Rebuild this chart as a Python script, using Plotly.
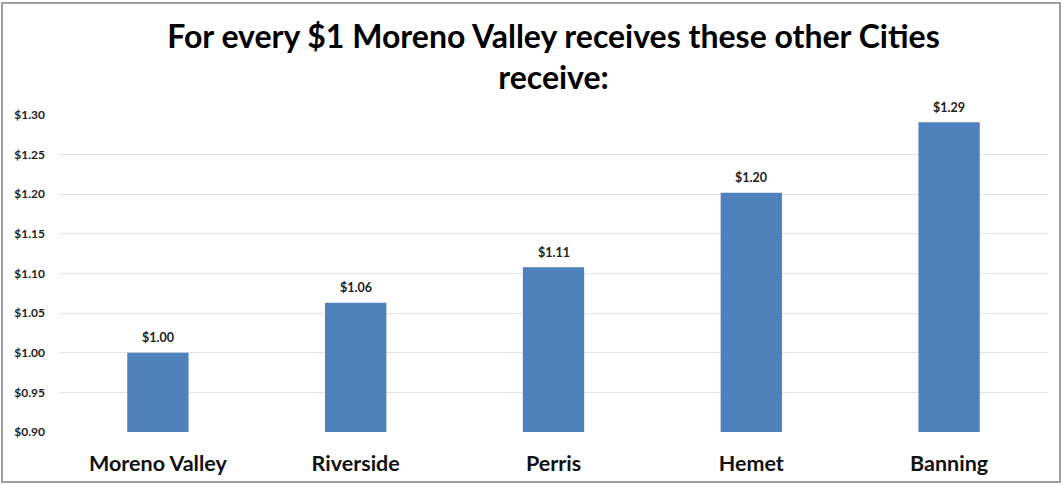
import plotly.graph_objects as go

cities = ["Moreno Valley", "Riverside", "Perris", "Hemet", "Banning"]
values = [1.00, 1.063, 1.108, 1.202, 1.291]
value_labels = ["$1.00", "$1.06", "$1.11", "$1.20", "$1.29"]
tick_vals = [0.90, 0.95, 1.00, 1.05, 1.10, 1.15, 1.20, 1.25, 1.30]
tick_text = ["$0.90", "$0.95", "$1.00", "$1.05", "$1.10", "$1.15", "$1.20", "$1.25", "$1.30"]
title_text = "For every $1 Moreno Valley receives these other Cities<br>receive:"

W, H = 1063, 485
ml, mr, mt, mb = 59, 15, 115, 53
pw, ph = W - ml - mr, H - mt - mb

FONT = "Lato"

fig = go.Figure()
fig.add_trace(go.Bar(
    x=cities, y=values,
    marker=dict(color="#4F81BD", line=dict(width=0)),
    width=0.31,
    hoverinfo="skip",
))

annotations = []
for c, v, lab in zip(cities, values, value_labels):
    annotations.append(dict(
        x=c, y=v, xref="x", yref="y", text=lab, showarrow=False,
        yanchor="middle", yshift=15,
        font=dict(family=FONT, size=12.5, color="#222222", weight="bold"),
    ))

# frame around the whole image (decoration)
x0 = (2 - ml) / pw
x1 = (1060 - ml) / pw
y1 = (H - mb - 3) / ph
y0 = (H - mb - 482) / ph

fig.update_layout(
    width=W, height=H,
    margin=dict(l=ml, r=mr, t=mt, b=mb, pad=0, autoexpand=False),
    paper_bgcolor="white", plot_bgcolor="white",
    showlegend=False,
    bargap=0.69,
    title=dict(text=title_text, x=0.5, xref="paper", xanchor="center",
               y=0.902, yanchor="top",
               font=dict(family=FONT, size=32, color="#000000", weight="bold")),
    xaxis=dict(showgrid=False, showline=False, ticks="",
               tickfont=dict(family=FONT, size=21.5, color="#111111", weight="bold"),
               ticklabelstandoff=16),
    yaxis=dict(range=[0.9, 1.3], tickvals=tick_vals, ticktext=tick_text,
               showgrid=True, gridcolor="#E3E3E3", gridwidth=1,
               zeroline=False, showline=False, ticks="",
               tickfont=dict(family=FONT, size=12, color="#222222", weight="bold"),
               ticklabelstandoff=13),
    annotations=annotations,
    shapes=[dict(type="rect", xref="paper", yref="paper",
                 x0=x0, x1=x1, y0=y0, y1=y1,
                 line=dict(color="#A0A0A0", width=2), fillcolor="rgba(0,0,0,0)",
                 layer="below")],
)

fig.write_html("out.html", config={"displayModeBar": False},
               post_script="document.body.style.margin='0';document.body.style.overflow='hidden';")
